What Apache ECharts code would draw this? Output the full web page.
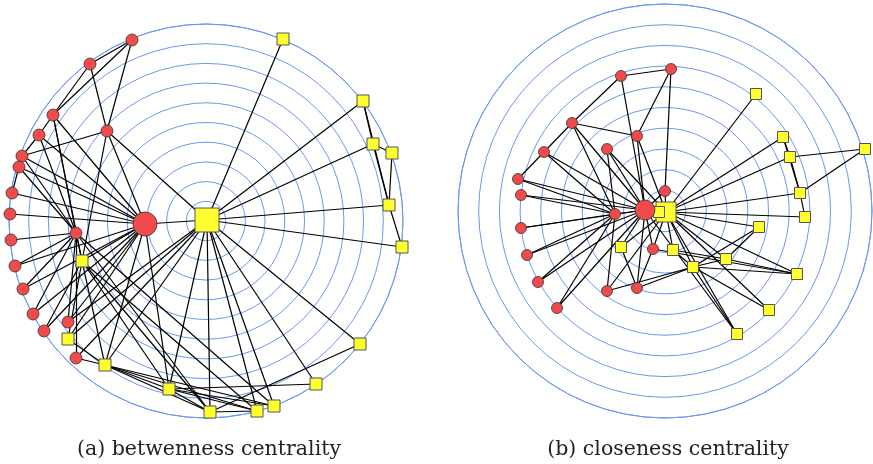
<!DOCTYPE html>
<html>
<head>
<meta charset="utf-8">
<script src="https://cdn.jsdelivr.net/npm/echarts@6/dist/echarts.min.js"></script>
<style>
  html, body { margin: 0; padding: 0; background: #fff; }
  #main { width: 873px; height: 464px; }
</style>
</head>
<body>
<div id="main"></div>
<script>
// (a) betweenness centrality: node positions
var betRed = [[132,40],[90,64],[53,115],[39,135],[22,156],[19,167],[12,193],[10,214],[11,240],
  [15,266],[23,289],[33,314],[44,331],[68,322],[76,358],[107,131],[76,233]];
var betRedHub = [145,224];
var betYellow = [[283,39],[363,101],[373,144],[392,153],[389,205],[402,247],[360,344],[316,384],
  [274,406],[257,411],[210,412],[169,389],[105,365],[68,339],[82,261]];
var betYellowHub = [207,220];
var betLinks = [
  ['R1','R2'],['R1','R3'],['R2','R3'],['R1','R16'],['R2','R16'],
  ['R3','R4'],['R3','R17'],['R3','Y15'],['R3','RB'],
  ['R4','R5'],['R4','RB'],['R4','R17'],
  ['R5','R16'],['R5','RB'],['R5','R17'],
  ['R6','R7'],['R6','RB'],['R6','R17'],
  ['R7','RB'],['R8','RB'],
  ['R16','RB'],['R16','Y15'],['R16','YB'],['RB','YB'],
  ['R9','R17'],['R10','R17'],['R10','RB'],['R11','RB'],['R11','R17'],['R12','RB'],['R12','R17'],
  ['R13','RB'],['R13','Y15'],
  ['R14','R17'],['R14','RB'],['R14','YB'],
  ['R15','R17'],['R15','Y13'],['R15','YB'],
  ['Y14','Y15'],['Y14','Y13'],['Y14','YB'],['Y14','RB'],
  ['Y15','RB'],['R17','Y15'],['Y15','Y13'],['Y15','Y12'],['Y15','Y11'],['Y15','Y10'],
  ['R17','Y9'],['R17','Y11'],
  ['Y13','Y12'],['Y13','Y11'],['Y13','Y10'],['Y13','Y9'],
  ['Y12','Y11'],['Y12','Y10'],['Y12','YB'],['Y12','RB'],['Y13','RB'],
  ['YB','Y1'],['YB','Y2'],['YB','Y3'],['YB','Y5'],['YB','Y6'],['YB','Y7'],['YB','Y8'],
  ['YB','Y9'],['YB','Y10'],['YB','Y11'],['YB','Y13'],
  ['Y7','Y11'],['Y8','Y12'],['Y10','Y11'],['Y9','Y12'],
  ['Y2','Y3'],['Y3','Y5'],['Y2','Y5'],['Y5','Y6'],['Y3','Y4'],['Y4','Y5']
];

// (b) closeness centrality
var cloRed = [[621,76],[671,69],[572,123],[637,136],[607,149],[544,152],[518,179],[521,195],[615,214],
  [521,228],[527,255],[538,282],[557,308],[607,291],[637,288],[653,249],[665,191]];
var cloRedHub = [645,210];
var cloYellow = [[756,94],[783,137],[790,157],[865,149],[800,193],[805,217],[759,227],[673,250],
  [726,259],[693,267],[797,274],[769,310],[737,334],[621,247],[659,212]];
var cloYellowHub = [666,212];
var cloLinks = [
  ['R1','R2'],['R1','R3'],['R1','RB'],['R2','R4'],['R2','R17'],
  ['R3','R4'],['R3','R6'],['R3','RB'],['R3','R9'],
  ['R4','RB'],['R4','YB'],
  ['R5','RB'],['R5','R9'],['R5','YB'],
  ['R6','R7'],['R6','RB'],['R6','R9'],
  ['R7','RB'],['R7','R9'],['R8','RB'],['R8','R9'],
  ['R10','RB'],['R10','R9'],['R11','RB'],['R11','R9'],
  ['R12','RB'],['R12','R9'],['R13','RB'],['R13','R9'],
  ['R14','R9'],['R14','YB'],['R14','Y10'],
  ['R15','RB'],['R15','R16'],['R15','Y10'],['R15','Y14'],
  ['R16','RB'],['R16','YB'],['R16','Y11'],
  ['Y14','RB'],['Y14','YB'],['R17','RB'],['R17','YB'],['R9','RB'],
  ['YB','Y1'],['YB','Y2'],['YB','Y3'],['YB','Y5'],['YB','Y6'],['YB','Y7'],['YB','Y8'],
  ['YB','Y9'],['YB','Y10'],['YB','Y11'],['YB','Y12'],['YB','Y13'],
  ['Y2','Y3'],['Y3','Y5'],['Y2','Y5'],['Y5','Y6'],['Y3','Y4'],['Y4','Y5'],
  ['Y10','Y7'],['Y9','Y7'],['Y10','Y9'],['Y10','Y11'],['Y9','Y11'],['Y10','Y12'],['Y10','Y13'],
  ['Y8','Y9'],['Y8','Y10'],['RB','Y13']
];

var captions = ['(a) betwenness centrality', '(b) closeness centrality'];

var ringColor = '#6a98ee';
var redColor = '#f04a4a';
var yellowColor = '#ffff2e';

function buildNodes(red, redHub, yellow, yellowHub, small, hub) {
    var nodes = [];
    nodes.push({name: 'YB', value: yellowHub, symbol: 'rect', symbolSize: hub,
        itemStyle: {color: yellowColor, borderColor: '#555', borderWidth: 1}});
    yellow.forEach(function (p, i) {
        nodes.push({name: 'Y' + (i + 1), value: p, symbol: 'rect', symbolSize: small,
            itemStyle: {color: yellowColor, borderColor: '#555', borderWidth: 1}});
    });
    red.forEach(function (p, i) {
        nodes.push({name: 'R' + (i + 1), value: p, symbol: 'circle', symbolSize: small,
            itemStyle: {color: redColor, borderColor: '#333', borderWidth: 0.8}});
    });
    nodes.push({name: 'RB', value: redHub, symbol: 'circle', symbolSize: hub,
        itemStyle: {color: redColor, borderColor: '#333', borderWidth: 0.8}});
    return nodes;
}

function buildLinks(list) {
    return list.map(function (l) { return {source: l[0], target: l[1]}; });
}

function ringAxes(idx) {
    return {
        radius: {
            polarIndex: idx, type: 'value', min: 0, max: 10, interval: 1,
            axisLine: {show: false}, axisTick: {show: false}, axisLabel: {show: false},
            splitLine: {show: true, lineStyle: {color: ringColor, width: 1}}
        },
        angle: {
            polarIndex: idx, type: 'value', min: 0, max: 360,
            axisLine: {show: true, lineStyle: {color: ringColor, width: 1}},
            axisTick: {show: false}, axisLabel: {show: false}, splitLine: {show: false}
        }
    };
}

var chart = echarts.init(document.getElementById('main'));
var r0 = ringAxes(0), r1 = ringAxes(1);

var capStyle = {fontFamily: 'DejaVu Serif', fontSize: 20.5, fontWeight: 'normal', color: '#222'};

var option = {
    animation: false,
    title: [
        {text: captions[0], left: 204, top: 434, textAlign: 'center', textStyle: capStyle},
        {text: captions[1], left: 663, top: 434, textAlign: 'center', textStyle: capStyle}
    ],
    polar: [
        {center: [206, 221], radius: 197},
        {center: [665, 211], radius: 207}
    ],
    radiusAxis: [r0.radius, r1.radius],
    angleAxis: [r0.angle, r1.angle],
    grid: {left: 0, right: 0, top: 0, bottom: 0},
    xAxis: {type: 'value', min: 0, max: 873, show: false},
    yAxis: {type: 'value', min: 0, max: 464, inverse: true, show: false},
    series: [
        {
            type: 'graph', coordinateSystem: 'cartesian2d', layout: 'none',
            data: buildNodes(betRed, betRedHub, betYellow, betYellowHub, 12, 24),
            links: buildLinks(betLinks),
            lineStyle: {color: '#000', width: 1.2, opacity: 1, curveness: 0},
            label: {show: false},
            emphasis: {disabled: true}
        },
        {
            type: 'graph', coordinateSystem: 'cartesian2d', layout: 'none',
            data: buildNodes(cloRed, cloRedHub, cloYellow, cloYellowHub, 11, 20),
            links: buildLinks(cloLinks),
            lineStyle: {color: '#000', width: 1.2, opacity: 1, curveness: 0},
            label: {show: false},
            emphasis: {disabled: true}
        }
    ]
};

chart.setOption(option);
</script>
</body>
</html>
